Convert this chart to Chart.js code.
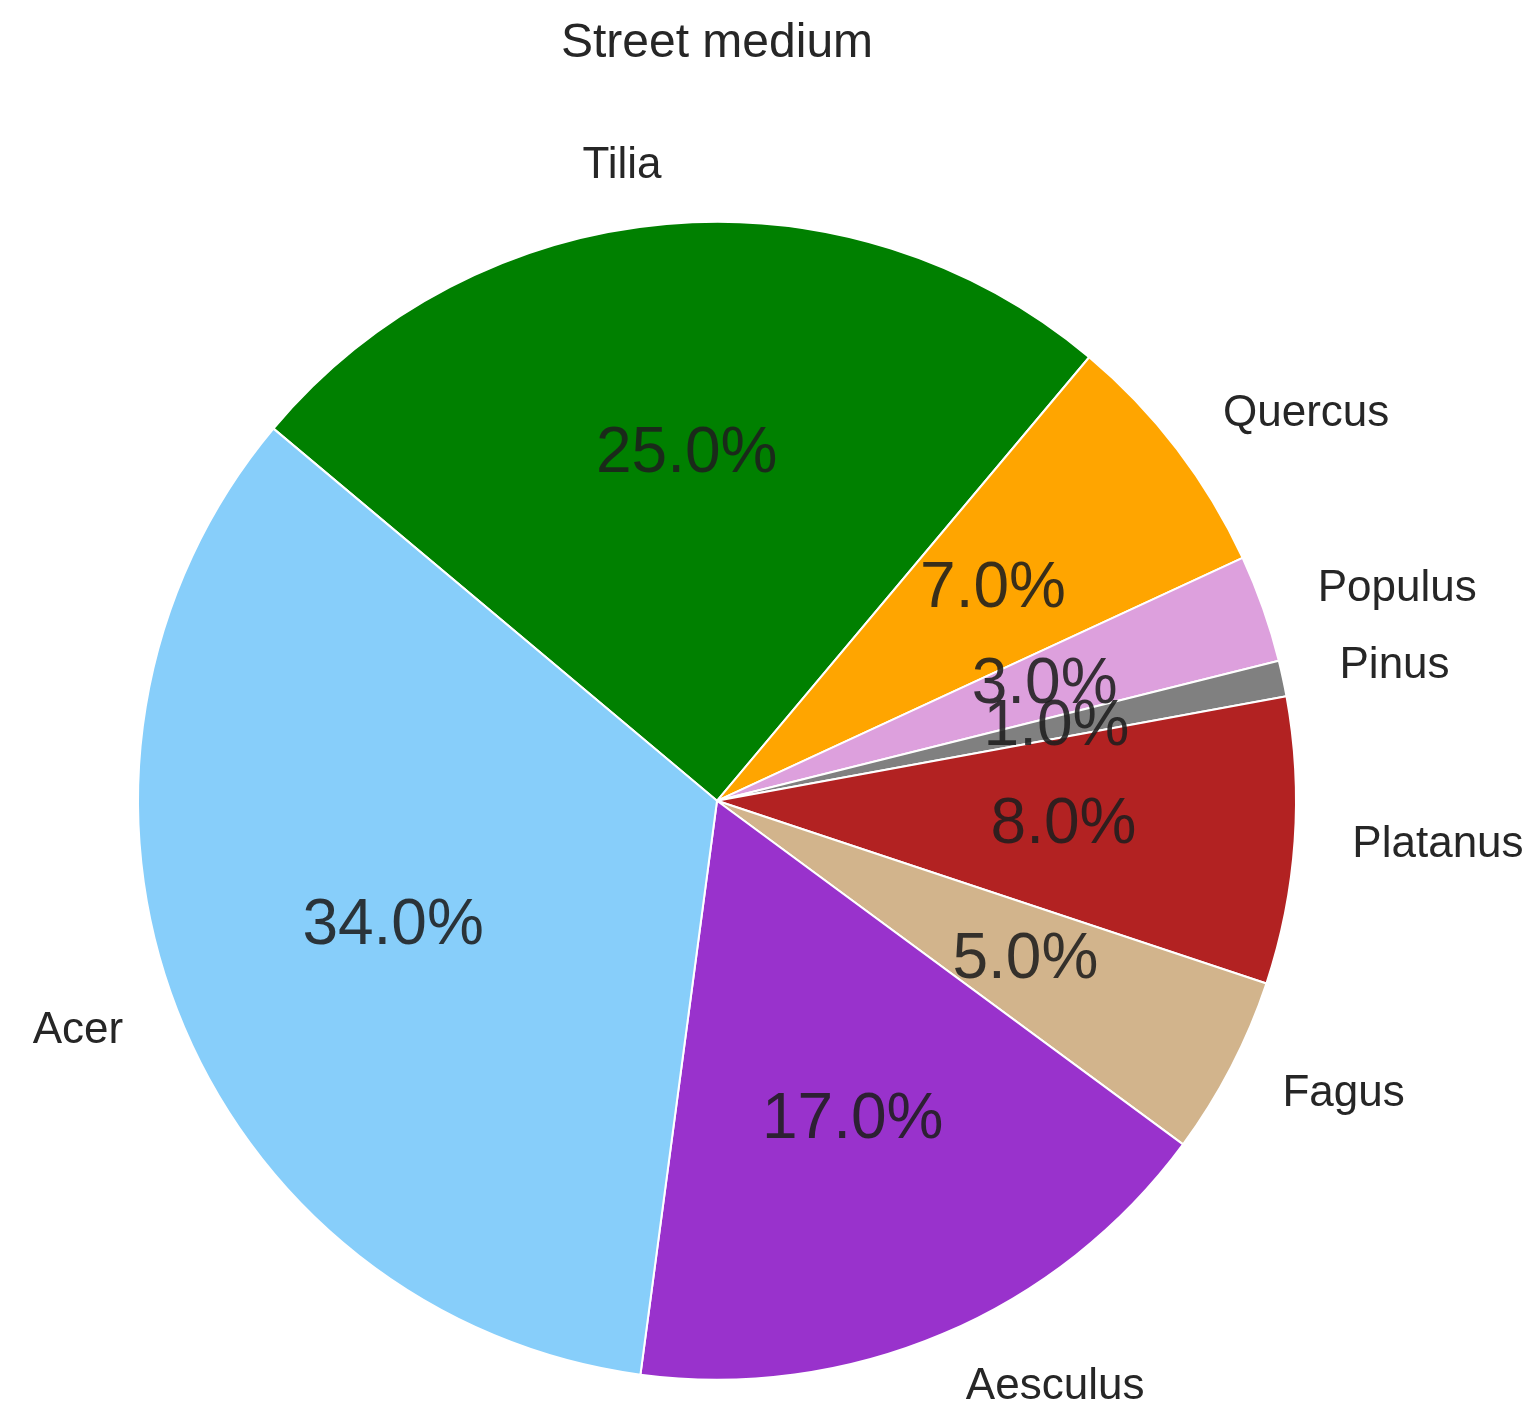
<!DOCTYPE html>
<html lang="en">
<head>
    <meta charset="UTF-8">
    <title>Street medium</title>
    <script src="https://cdn.jsdelivr.net/npm/chart.js"></script>
    <style>
        html, body {
            margin: 0;
            padding: 0;
            background: #fff;
        }
        #chart {
            display: block;
        }
    </style>
</head>
<body>

<canvas id="chart" width="1537" height="1411"></canvas>

<script>
    // Genus shares (%), listed clockwise starting from the Tilia/Acer edge
    const genera = ['Tilia', 'Quercus', 'Populus', 'Pinus', 'Platanus', 'Fagus', 'Aesculus', 'Acer'];
    const shares = [25, 7, 3, 1, 8, 5, 17, 34];
    const sliceColors = ['#008000', '#FFA500', '#DDA0DD', '#808080', '#B22222', '#D2B48C', '#9932CC', '#87CEFA'];

    const FONT = '"Liberation Sans", Arial, sans-serif';
    const TEXT = '#262626';

    // Names outside the pie (1.1 r), percentages inside (0.6 r)
    const sliceLabels = {
        id: 'sliceLabels',
        afterDatasetsDraw(chart) {
            const ctx = chart.ctx;
            const arcs = chart.getDatasetMeta(0).data;
            ctx.save();
            arcs.forEach((arc, i) => {
                const p = arc.getProps(['x', 'y', 'startAngle', 'endAngle', 'outerRadius'], true);
                const mid = (p.startAngle + p.endAngle) / 2;
                const cos = Math.cos(mid), sin = Math.sin(mid);

                ctx.font = '44px ' + FONT;
                ctx.fillStyle = TEXT;
                ctx.textBaseline = 'middle';
                ctx.textAlign = cos > 0 ? 'left' : 'right';
                ctx.fillText(genera[i], p.x + 1.1 * p.outerRadius * cos, p.y + 1.1 * p.outerRadius * sin);

                ctx.font = '64px ' + FONT;
                ctx.fillStyle = 'rgba(30, 30, 30, 0.88)';
                ctx.textAlign = 'center';
                ctx.fillText(shares[i].toFixed(1) + '%', p.x + 0.6 * p.outerRadius * cos, p.y + 0.6 * p.outerRadius * sin);
            });
            ctx.restore();
        }
    };

    new Chart(document.getElementById('chart'), {
        type: 'pie',
        data: {
            labels: genera,
            datasets: [{
                data: shares,
                backgroundColor: sliceColors,
                borderColor: '#ffffff',
                borderWidth: 2
            }]
        },
        options: {
            responsive: false,
            animation: false,
            events: [],
            rotation: -50,
            radius: 579,
            layout: {
                padding: { left: 0, right: 103, top: 0, bottom: 0 }
            },
            plugins: {
                legend: { display: false },
                tooltip: { enabled: false },
                title: {
                    display: true,
                    text: 'Street medium',
                    color: TEXT,
                    font: { family: FONT, size: 48, weight: 'normal', lineHeight: 1.2 },
                    padding: { top: 15, bottom: 118 }
                }
            }
        },
        plugins: [sliceLabels]
    });
</script>

</body>
</html>
